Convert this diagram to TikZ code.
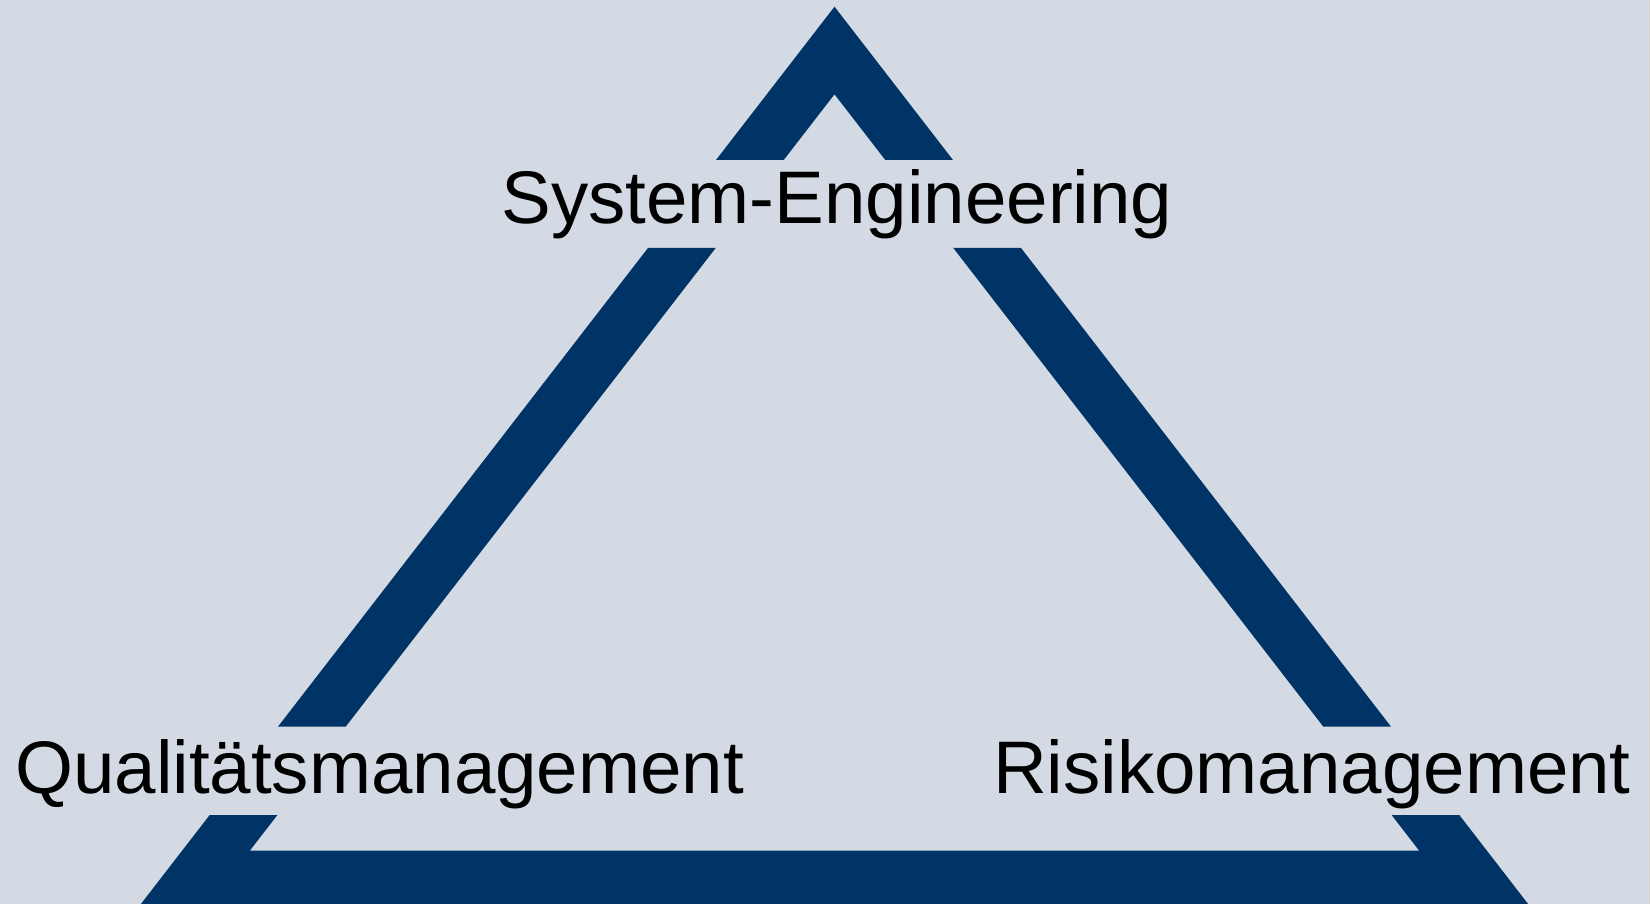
\documentclass[tikz,border=0pt]{standalone}
\usepackage{fontspec}
\setmainfont{Liberation Sans}
\usepackage{xcolor}
\definecolor{paneBg}{HTML}{D3DAE3}
\definecolor{triBlue}{HTML}{003366}

\begin{document}
\begin{tikzpicture}[x=1pt, y=-1pt, areaname/.style={inner sep=0pt, font=\fontsize{74.5}{89}\selectfont}, band/.style={fill=triBlue, even odd rule}]
    \fill[paneBg] (0,0) rectangle (1650,904);
    \useasboundingbox (0,0) rectangle (1650,904);

    % Outer and inner corners of the triangle
    \coordinate (OT) at (834.5,6.7);
    \coordinate (OL) at (140.9,904);
    \coordinate (OR) at (1528.1,904);
    \coordinate (IT) at (834.5,94.3);
    \coordinate (IL) at (249.8,850.7);
    \coordinate (IR) at (1419.2,850.7);

    % Band, cut open where the names sit
    \begin{scope}
        \clip (0,0) rectangle (1650,160) (0,248) rectangle (1650,726.5) (0,815) rectangle (1650,904);
        \fill[band] (OT) -- (OL) -- (OR) -- cycle (IT) -- (IL) -- (IR) -- cycle;
    \end{scope}

    % Names
    \node[areaname, anchor=base] (SE) at (837,224) {System-Engineering};
    \node[areaname, anchor=base west] (QM) at (15,793.5) {Qualitätsmanagement};
    \node[areaname, anchor=base east] (RM) at (1631,793.5) {Risikomanagement};
\end{tikzpicture}
\end{document}
